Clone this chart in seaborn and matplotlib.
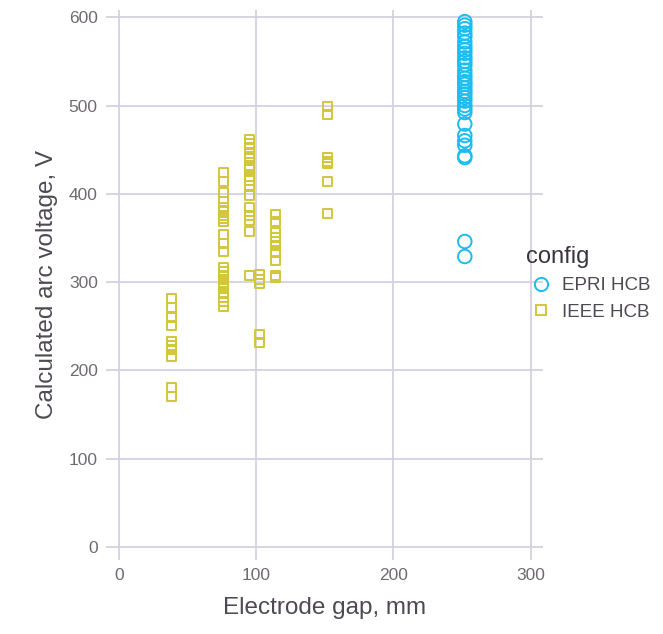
import matplotlib
matplotlib.use("Agg")
import matplotlib.pyplot as plt
from matplotlib.lines import Line2D
import numpy as np
import pandas as pd
import seaborn as sns

# Electrode gap (mm) and calculated arc voltage (V) for each test configuration
epri_gap = 252
epri_voltage = [595, 591, 587, 582, 578, 572, 567, 563, 559, 554, 550, 546, 540,
                535, 531, 527, 524, 520, 516, 513, 509, 505, 500, 496, 492, 479,
                466, 460, 455, 443, 441, 346, 329]

ieee_groups = {
    38: [281, 271, 260, 251, 233, 228, 224, 216, 181, 171],
    76: [424, 414, 401, 391, 384, 380, 376, 372, 369, 354, 344, 335, 317, 312,
         308, 303, 299, 295, 287, 283, 278, 272],
    95: [461, 457, 452, 446, 440, 432, 428, 420, 415, 409, 398, 384, 375, 370,
         357, 308],
    102: [309, 303, 298, 241, 232],
    114: [377, 369, 356, 351, 346, 341, 334, 325, 307, 305],
    152: [499, 490, 441, 437, 434, 414, 378],
}

config_names = ["EPRI HCB", "IEEE HCB"]
config_colors = ["#1bbcf0", "#d3c63b"]
config_markers = ["o", "s"]
x_ticks = [0, 100, 200, 300]
y_ticks = [0, 100, 200, 300, 400, 500, 600]

rows = [(epri_gap, v, "EPRI HCB") for v in epri_voltage]
for gap, volts in ieee_groups.items():
    rows += [(gap, v, "IEEE HCB") for v in volts]
df = pd.DataFrame(rows, columns=["gap", "voltage", "config"])

sns.set_theme(style="white")
plt.rcParams["font.family"] = ["Liberation Sans", "DejaVu Sans"]

fig = plt.figure(figsize=(6.63, 6.34), dpi=100)
ax = fig.add_axes([0.16, 0.117, 0.659, 0.867])

grid_color = "#d3d0e0"
for name, color, marker, size in zip(config_names, config_colors, config_markers, [95, 42]):
    sub = df[df["config"] == name]
    sns.scatterplot(data=sub, x="gap", y="voltage", ax=ax, marker=marker,
                    s=size, facecolor="none", edgecolor=color, linewidth=1.4,
                    legend=False, zorder=3)

ax.set_xlim(-9.5, 309)
ax.set_ylim(-14.5, 608)
ax.set_xticks(x_ticks)
ax.set_yticks(y_ticks)
ax.grid(True, color=grid_color, linewidth=1.3)
ax.set_axisbelow(True)
for sp in ax.spines.values():
    sp.set_visible(False)
ax.tick_params(length=0, labelsize=12.5, colors="#6f6a72", pad=6)
for lab in ax.get_xticklabels() + ax.get_yticklabels():
    lab.set_color("#6f6a72")

ax.set_xlabel("Electrode gap, mm", fontsize=17.5, color="#4e4952", labelpad=10)
ax.set_ylabel("Calculated arc voltage, V", fontsize=17.5, color="#4e4952", labelpad=8)

handles = [Line2D([], [], linestyle="none", marker=m, markersize=ms,
                  markerfacecolor="none", markeredgecolor=c, markeredgewidth=1.4)
           for m, c, ms in zip(config_markers, config_colors, [9.5, 6.5])]
leg = fig.legend(handles, config_names, title="config", loc="center left",
                 bbox_to_anchor=(0.768, 0.553), frameon=False, fontsize=13.5,
                 title_fontsize=17, handletextpad=0.3, labelspacing=0.5,
                 handlelength=1.6, alignment="left")
for t in leg.get_texts():
    t.set_color("#4e4952")
leg.get_title().set_color("#3a353d")

fig.savefig("out.png", dpi=100)
